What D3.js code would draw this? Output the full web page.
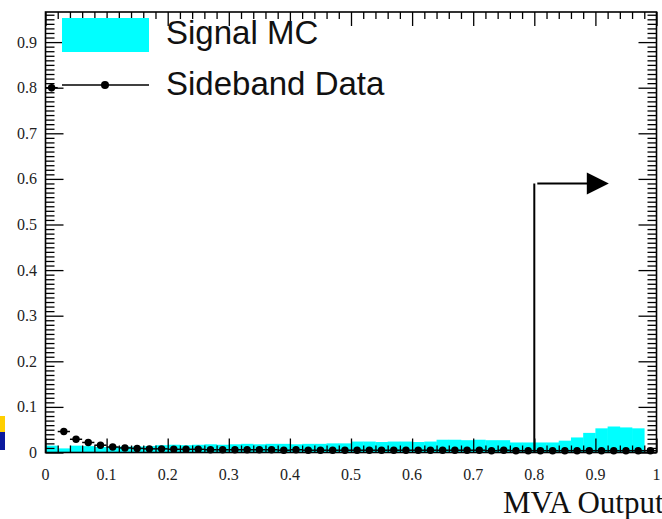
<!DOCTYPE html>
<html><head><meta charset="utf-8">
<script src="https://cdn.jsdelivr.net/npm/d3@7"></script>
<style>body{margin:0;background:#fff} svg{display:block}</style>
</head><body><svg id="c" width="662" height="519"></svg>
<script>
// ---- data ----
const binRange = [0, 1];
const signalMC = [0.015,0.009,0.015,0.014,0.012,0.012,0.013,0.013,0.014,0.016,
  0.017,0.016,0.017,0.018,0.017,0.018,0.019,0.018,0.019,0.019,
  0.018,0.019,0.019,0.020,0.020,0.024,0.024,0.023,0.024,0.024,
  0.023,0.024,0.028,0.028,0.027,0.028,0.027,0.027,0.022,0.022,
  0.022,0.022,0.026,0.033,0.043,0.053,0.057,0.055,0.053,0];
const sidebandData = [0.80,0.046,0.029,0.022,0.016,0.012,0.010,0.009,0.008,0.008,
  0.007,0.007,0.007,0.006,0.006,0.006,0.006,0.006,0.006,0.005,
  0.006,0.005,0.005,0.005,0.005,0.005,0.005,0.005,0.005,0.005,
  0.005,0.005,0.005,0.005,0.005,0.005,0.004,0.005,0.004,0.004,
  0.004,0.004,0.004,0.004,0.004,0.004,0.004,0.004,0.004,0.004];
const sidebandErr = [0.008,0.004,0.003,0.003,0.002,0.002,0.002,0.002,0.002,0.002,
  0.002,0.002,0.002,0.002,0.002,0.002,0.002,0.002,0.002,0.002,
  0.002,0.002,0.002,0.002,0.002,0.002,0.002,0.002,0.002,0.002,
  0.002,0.002,0.002,0.002,0.002,0.002,0.002,0.002,0.002,0.002,
  0.002,0.002,0.002,0.002,0.002,0.002,0.002,0.002,0.002,0.002];
const xTicks = [0,0.1,0.2,0.3,0.4,0.5,0.6,0.7,0.8,0.9,1];
const xTickLabels = ["0","0.1","0.2","0.3","0.4","0.5","0.6","0.7","0.8","0.9","1"];
const yTicks = [0,0.1,0.2,0.3,0.4,0.5,0.6,0.7,0.8,0.9];
const yTickLabels = ["0","0.1","0.2","0.3","0.4","0.5","0.6","0.7","0.8","0.9"];
const legendLabels = ["Signal MC","Sideband Data"];
const xTitle = "MVA Output";
const cutValue = 0.8, cutArrowY = 0.59, cutArrowEnd = 0.922;

// ---- layout ----
const L = 45.5, R = 656.5, T = 12, B = 452.5;
const svg = d3.select("#c");
const x = d3.scaleLinear().domain(binRange).range([L, R]);
const y = d3.scaleLinear().domain([0, 0.966]).range([B, T]);
const nBins = signalMC.length;
const bw = (binRange[1] - binRange[0]) / nBins;
const bins = d3.range(nBins).map(i => ({lo: binRange[0] + i*bw, hi: binRange[0] + (i+1)*bw,
  s: signalMC[i], d: sidebandData[i], e: sidebandErr[i]}));

// decorative marks at left edge
svg.append("rect").attr("x",0).attr("y",416).attr("width",5).attr("height",16).attr("fill","#ffcf00");
svg.append("rect").attr("x",0).attr("y",432).attr("width",5).attr("height",18).attr("fill","#0b1a9e");

// signal histogram
svg.append("g").selectAll("rect").data(bins).join("rect")
  .attr("x", d => x(d.lo)).attr("width", d => x(d.hi) - x(d.lo) + 0.3)
  .attr("y", d => y(d.s)).attr("height", d => B - y(d.s))
  .attr("fill", "#00ffff");

// sideband data points
const dg = svg.append("g").attr("stroke","#000").attr("stroke-width",1.5);
dg.selectAll("line.h").data(bins).join("line").attr("class","h")
  .attr("x1", d => x(d.lo)).attr("x2", d => x(d.hi))
  .attr("y1", d => y(d.d)).attr("y2", d => y(d.d));
dg.selectAll("line.v").data(bins).join("line").attr("class","v")
  .attr("x1", d => x((d.lo+d.hi)/2)).attr("x2", d => x((d.lo+d.hi)/2))
  .attr("y1", d => y(Math.max(0,d.d - d.e))).attr("y2", d => y(d.d + d.e));
svg.append("g").selectAll("circle").data(bins).join("circle")
  .attr("cx", d => x((d.lo+d.hi)/2)).attr("cy", d => y(d.d)).attr("r", 3.7).attr("fill","#000");

// axes with ticks on all four sides
const minorX = d3.range(0, 1.0001, 0.02).filter(v => Math.abs(v*10 - Math.round(v*10)) > 1e-6);
const minorY = d3.range(0, 0.966, 0.01).filter(v => Math.abs(v*10 - Math.round(v*10)) > 1e-6);
function axisG(gen, tr) {
  const g = svg.append("g").attr("transform", tr).call(gen);
  g.select(".domain").remove();
  g.selectAll("line").attr("stroke","#000").attr("stroke-width",1.3);
  return g;
}
axisG(d3.axisBottom(x).tickValues(xTicks).tickSize(-14).tickFormat(""), `translate(0,${B})`);
axisG(d3.axisBottom(x).tickValues(minorX).tickSize(-7).tickFormat(""), `translate(0,${B})`);
axisG(d3.axisTop(x).tickValues(xTicks).tickSize(-14).tickFormat(""), `translate(0,${T})`);
axisG(d3.axisTop(x).tickValues(minorX).tickSize(-7).tickFormat(""), `translate(0,${T})`);
axisG(d3.axisLeft(y).tickValues(yTicks).tickSize(-18).tickFormat(""), `translate(${L},0)`);
axisG(d3.axisLeft(y).tickValues(minorY).tickSize(-9).tickFormat(""), `translate(${L},0)`);
axisG(d3.axisRight(y).tickValues(yTicks).tickSize(-18).tickFormat(""), `translate(${R},0)`);
axisG(d3.axisRight(y).tickValues(minorY).tickSize(-9).tickFormat(""), `translate(${R},0)`);

// frame
svg.append("rect").attr("x",L).attr("y",T).attr("width",R-L).attr("height",B-T)
  .attr("fill","none").attr("stroke","#000").attr("stroke-width",1.6);

// tick labels
svg.append("g").selectAll("text").data(xTicks).join("text")
  .attr("x", d => x(d)).attr("y", 480).attr("text-anchor","middle")
  .attr("font-family","Liberation Serif, serif").attr("font-size",16).attr("fill","#222")
  .text((d,i) => xTickLabels[i]);
svg.append("g").selectAll("text").data(yTicks).join("text")
  .attr("x", 37).attr("y", d => y(d)).attr("dy","0.35em").attr("text-anchor","end")
  .attr("font-family","Liberation Serif, serif").attr("font-size",16).attr("fill","#222")
  .text((d,i) => yTickLabels[i]);

// axis title
svg.append("text").attr("x", 503).attr("y", 513)
  .attr("font-family","Liberation Serif, serif").attr("font-size",31).attr("fill","#111")
  .text(xTitle);

// cut arrow
const ag = svg.append("g").attr("stroke","#000").attr("stroke-width",2);
ag.append("line").attr("x1", x(cutValue)).attr("x2", x(cutValue)).attr("y1", y(0)).attr("y2", y(cutArrowY));
ag.append("line").attr("x1", x(cutValue)+3).attr("x2", x(cutArrowEnd)-20).attr("y1", y(cutArrowY)).attr("y2", y(cutArrowY));
svg.append("path")
  .attr("d", `M${x(cutArrowEnd)},${y(cutArrowY)} L${x(cutArrowEnd)-22},${y(cutArrowY)-11} L${x(cutArrowEnd)-22},${y(cutArrowY)+11} Z`)
  .attr("fill","#000");

// legend
svg.append("rect").attr("x",62).attr("y",18).attr("width",87).attr("height",34).attr("fill","#00ffff");
svg.append("line").attr("x1",62).attr("x2",149).attr("y1",85).attr("y2",85).attr("stroke","#000").attr("stroke-width",1.6);
svg.append("circle").attr("cx",105).attr("cy",85).attr("r",4).attr("fill","#000");
svg.append("g").selectAll("text").data(legendLabels).join("text")
  .attr("x",166).attr("y",(d,i) => [44,95][i])
  .attr("font-family","Liberation Sans, Arial, sans-serif").attr("font-size",33).attr("fill","#111")
  .text(d => d);
</script></body></html>
